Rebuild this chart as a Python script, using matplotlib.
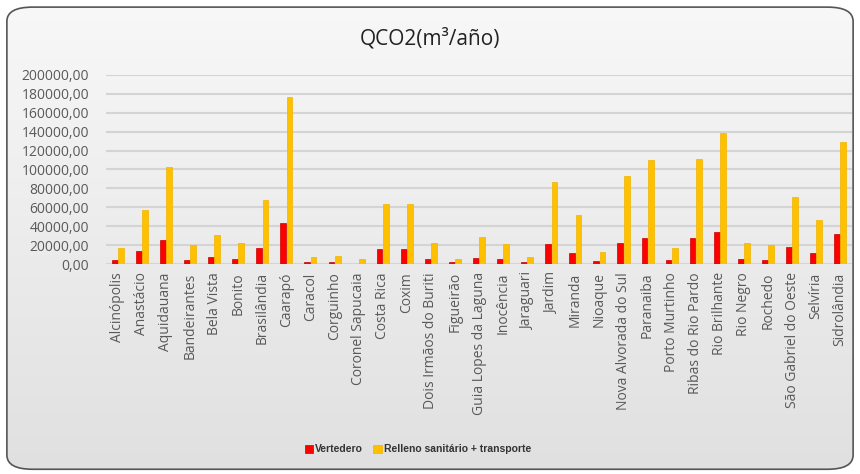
import numpy as np
import matplotlib
matplotlib.use("Agg")
import matplotlib.pyplot as plt
from matplotlib.patches import FancyBboxPatch
from matplotlib.ticker import FuncFormatter

municipios = ["Alcinópolis", "Anastácio", "Aquidauana", "Bandeirantes", "Bela Vista",
              "Bonito", "Brasilândia", "Caarapó", "Caracol", "Corguinho",
              "Coronel Sapucaia", "Costa Rica", "Coxim", "Dois Irmãos do Buriti",
              "Figueirão", "Guia Lopes da Laguna", "Inocência", "Jaraguari", "Jardim",
              "Miranda", "Nioaque", "Nova Alvorada do Sul", "Paranaiba", "Porto Murtinho",
              "Ribas do Rio Pardo", "Rio Brilhante", "Rio Negro", "Rochedo",
              "São Gabriel do Oeste", "Selvíria", "Sidrolândia"]

vertedero = [3900, 13700, 25000, 4600, 7000, 5300, 16500, 43000, 2000, 2000,
             500, 15800, 15800, 5300, 2100, 6300, 5300, 1800, 21500, 12000,
             2800, 22200, 27100, 4600, 27100, 33800, 5300, 4600, 17600, 11300, 32000]

relleno = [16500, 57000, 103000, 20000, 31000, 22200, 67200, 176700, 7700, 8400,
           4900, 63400, 63400, 22200, 5300, 28500, 21500, 7000, 86600, 51400,
           12700, 93600, 110100, 16900, 111200, 139000, 22500, 20400, 71100, 46400, 129500]

fig = plt.figure(figsize=(8.6, 4.74), dpi=100)
fig.patch.set_facecolor("white")

# fondo con degradado y borde redondeado
bg_ax = fig.add_axes([0, 0, 1, 1], zorder=-10)
bg_ax.set_xlim(0, 1)
bg_ax.set_ylim(0, 1)
bg_ax.axis("off")
grad = np.linspace(0, 1, 256).reshape(-1, 1)
img = bg_ax.imshow(grad, extent=[0, 1, 0, 1], aspect="auto", origin="upper",
                   cmap=matplotlib.colors.LinearSegmentedColormap.from_list(
                       "g", ["#f8f8f8", "#e0e0e0"]))
box = FancyBboxPatch((0.008, 0.01), 0.984, 0.975,
                     boxstyle="round,pad=0,rounding_size=0.03",
                     transform=bg_ax.transAxes, facecolor="none",
                     edgecolor="#555555", linewidth=1.2)
bg_ax.add_patch(box)
img.set_clip_path(box)

ax = fig.add_axes([0.123, 0.443, 0.868, 0.399])
ax.set_facecolor("none")
x = np.arange(len(municipios))
w = 0.24
ax.bar(x - 0.13, vertedero, w, color="#ff0000", edgecolor="#cc0000", linewidth=0.5,
       label="Vertedero", zorder=3)
ax.bar(x + 0.13, relleno, w, color="#ffc000", edgecolor="#f0b400", linewidth=0.5,
       label="Relleno sanitário + transporte", zorder=3)

ax.set_xlim(-0.5, len(municipios) - 0.5)
ax.set_ylim(0, 200000)
ax.set_yticks(np.arange(0, 200001, 20000))
ax.yaxis.set_major_formatter(FuncFormatter(lambda v, p: f"{v:.2f}".replace(".", ",")))
ax.grid(axis="y", color="#d4d4d4", linewidth=1.5, zorder=0)
for s in ax.spines.values():
    s.set_visible(False)
ax.tick_params(length=0)
ax.tick_params(axis="y", labelsize=10, labelcolor="#595959", pad=12)
ax.set_xticks(x)
ax.set_xticklabels(municipios, rotation=90, fontsize=10, color="#595959")
ax.tick_params(axis="x", pad=6)
for lab in ax.get_xticklabels() + ax.get_yticklabels():
    lab.set_family("Open Sans")

fig.text(0.5, 0.918, "QCO2(m³/año)", ha="center", va="center", fontsize=15,
         family="Open Sans", color="#222222")

leg = fig.legend(loc="center", bbox_to_anchor=(0.486, 0.052), ncol=2, frameon=False,
                 handlelength=0.8, handleheight=0.8, handletextpad=0.2,
                 columnspacing=1.0,
                 prop={"family": "Liberation Sans", "weight": "bold", "size": 7.5})
for t in leg.get_texts():
    t.set_color("#333333")

fig.savefig("out.png", dpi=100)
